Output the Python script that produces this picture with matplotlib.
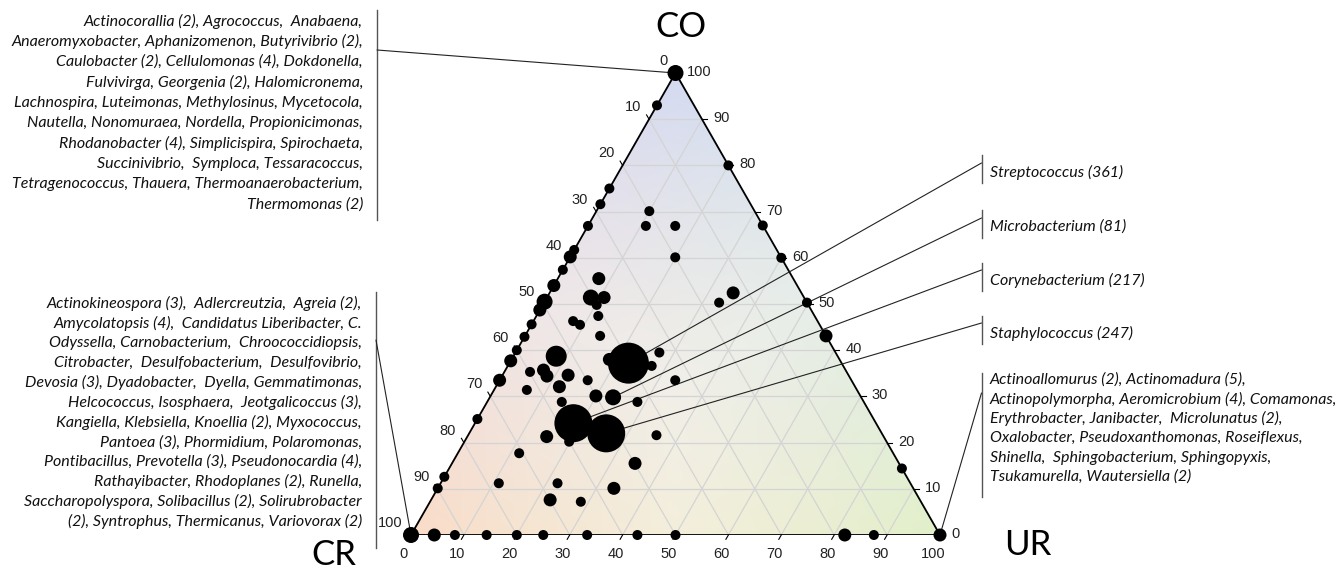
import numpy as np
import matplotlib.pyplot as plt
from matplotlib.patches import Polygon, ConnectionPatch

# ternary positions in percent (cr = 100 - ur - co)
ur = [0, 0, 100,
      0, 0, 0, 0, 0, 0, 0, 0, 0, 0, 0, 0, 0, 0, 0, 0, 0, 0,
      4.4, 8.3, 14.3, 20, 25, 33.3, 42.8, 50, 82, 87.5,
      20, 33, 40, 49.7, 56.9, 85.6,
      10.0, 10.95, 16.5, 19.9, 7.75, 8.3, 10.8, 10.2, 7.5, 9.2, 11.7, 14.2,
      8.1, 7.2, 8.5, 4.85, 12.4, 12.0, 6.2, 16.65, 14.1, 19.9, 23.3, 28.4,
      22.5, 18.5, 27.2, 27.2, 33.2, 18.6, 25.9, 19.8, 15.0, 35.6, 11.6,
      34.6, 11.0, 22.1, 33.3, 22.5, 28.5, 34.7, 33.1]
co = [100, 0, 0,
      93, 75, 71.6, 66.9, 61.7, 60.2, 57.4, 54, 50.5, 48.7, 45.6, 42.9, 40, 37.7, 33.5, 25.1, 12.6, 10.1,
      0, 0, 0, 0, 0, 0, 0, 0, 0, 0,
      80, 67, 60, 50.3, 43.1, 14.4,
      70.1, 66.9, 66.9, 60.1, 55.5, 51.4, 51.4, 49.8, 46.3, 45.5, 47.4, 43.1,
      38.7, 35.7, 34.4, 35.3, 34.6, 32.1, 31.4, 33.5, 28.8, 30.1, 29.8, 28.8,
      37.2, 38.0, 39.5, 36.6, 33.5, 24.2, 22.0, 20.2, 21.3, 21.6, 17.7,
      15.5, 11.2, 11.2, 10.1, 7.6, 7.2, 52.4, 50.3]
# marker size class (1 small ... 6 largest)
size_cls = [3, 3, 2,
            1, 1, 1, 1, 1, 2, 1, 2, 3, 2, 1, 1, 1, 2, 2, 1, 1, 1,
            2, 1, 1, 1, 1, 1, 1, 1, 2, 1,
            1, 1, 1, 1, 2, 1,
            1, 1, 1, 1, 2, 3, 2, 1, 1, 1, 1, 1,
            4, 2, 2, 1, 2, 2, 1, 1, 1, 2, 3, 1,
            6, 2, 1, 1, 1, 5, 5, 1, 2, 1, 1,
            2, 1, 1, 2, 2, 1, 2, 1]

genus = ['Streptococcus (361)', 'Microbacterium (81)',
         'Corynebacterium (217)', 'Staphylococcus (247)']
genus_ur = [22.5, 23.3, 18.6, 25.9]
genus_co = [37.2, 29.8, 24.2, 22.0]

top_left = ['Actinocorallia (2), Agrococcus,  Anabaena,',
            'Anaeromyxobacter, Aphanizomenon, Butyrivibrio (2),',
            'Caulobacter (2), Cellulomonas (4), Dokdonella,',
            'Fulvivirga, Georgenia (2), Halomicronema,',
            'Lachnospira, Luteimonas, Methylosinus, Mycetocola,',
            'Nautella, Nonomuraea, Nordella, Propionicimonas,',
            'Rhodanobacter (4), Simplicispira, Spirochaeta,',
            'Succinivibrio,  Symploca, Tessaracoccus,',
            'Tetragenococcus, Thauera, Thermoanaerobacterium,',
            'Thermomonas (2)']
bottom_left = ['Actinokineospora (3),  Adlercreutzia,  Agreia (2),',
               'Amycolatopsis (4),  Candidatus Liberibacter, C.',
               'Odyssella, Carnobacterium,  Chroococcidiopsis,',
               'Citrobacter,  Desulfobacterium,  Desulfovibrio,',
               'Devosia (3), Dyadobacter,  Dyella, Gemmatimonas,',
               'Helcococcus, Isosphaera,  Jeotgalicoccus (3),',
               'Kangiella, Klebsiella, Knoellia (2), Myxococcus,',
               'Pantoea (3), Phormidium, Polaromonas,',
               'Pontibacillus, Prevotella (3), Pseudonocardia (4),',
               'Rathayibacter, Rhodoplanes (2), Runella,',
               'Saccharopolyspora, Solibacillus (2), Solirubrobacter',
               '(2), Syntrophus, Thermicanus, Variovorax (2)']
bottom_right = ['Actinoallomurus (2), Actinomadura (5),',
                'Actinopolymorpha, Aeromicrobium (4), Comamonas,',
                'Erythrobacter, Janibacter,  Microlunatus (2),',
                'Oxalobacter, Pseudoxanthomonas, Roseiflexus,',
                'Shinella,  Sphingobacterium, Sphingopyxis,',
                'Tsukamurella, Wautersiella (2)']

ticks = list(range(0, 101, 10))

diam = {1: 10, 2: 13, 3: 16, 4: 21, 5: 38, 6: 41}  # px


def tern(u, c):
    u = np.asarray(u, float)
    c = np.asarray(c, float)
    return u + c / 2, c


fig = plt.figure(figsize=(13.4, 5.7), dpi=100)
lay = fig.add_axes([0, 0, 1, 1])
lay.set_xlim(0, 1340)
lay.set_ylim(570, 0)
lay.axis('off')

ax = fig.add_axes([411 / 1340, 35 / 570, 529 / 1340, 462 / 570], zorder=2)
ax.patch.set_visible(False)

# background colour wash
n = 500
gx, gy = np.meshgrid(np.linspace(0, 100, n), np.linspace(0, 100, n))
wco = gy / 100
wur = (gx - gy / 2) / 100
wcr = 1 - wur - wco
W = np.stack([wcr, wur, wco], -1)
inside = (W >= -0.003).all(-1)
Wc = np.clip(W, 0, 1)
corner = np.array([[250, 220, 200], [226, 240, 202], [212, 218, 242]]) / 255
rgb = Wc @ corner
f = (Wc.max(-1) - 1 / 3) / (2 / 3)
rgb = rgb + (1 - f)[..., None] * 0.45 * (1 - rgb)
img = np.dstack([np.clip(rgb, 0, 1), inside.astype(float)])
ax.imshow(img, extent=(0, 100, 0, 100), origin='lower', aspect='auto',
          interpolation='bilinear', zorder=0)

# grid
gcol = '#d4d4d4'
for v in ticks[1:-1]:
    ax.plot([v / 2, 100 - v / 2], [v, v], color=gcol, lw=0.9, zorder=1)
    ax.plot([v, v + (100 - v) / 2], [0, 100 - v], color=gcol, lw=0.9, zorder=1)
    ax.plot([100 - v, (100 - v) / 2], [0, 100 - v], color=gcol, lw=0.9, zorder=1)

ax.add_patch(Polygon([[0, 0], [100, 0], [50, 100]], closed=True, fill=False,
                     ec='black', lw=1.3, zorder=3))

# ticks and tick labels
pxx, pxy = 100 / 529, 100 / 462
tfont = dict(family='Liberation Sans', fontsize=10.5, color='#222222')
for v in ticks:
    # bottom: UR
    ax.plot([v, v - 2.5 * pxx], [0, -4.3 * pxy], color='black', lw=0.8, clip_on=False)
    ax.text(v - 7 * pxx, -19 * pxy, str(v), ha='center', va='center', **tfont)
    # right: CO
    x, y = 100 - v / 2, v
    ax.plot([x, x + 5 * pxx], [y, y], color='black', lw=0.8, clip_on=False)
    ax.text(x + 11 * pxx, y + 1 * pxy, str(v), ha='left', va='center', **tfont)
    # left: CR
    x, y = (100 - v) / 2, 100 - v
    ax.plot([x, x - 2.5 * pxx], [y, y + 4.3 * pxy], color='black', lw=0.8, clip_on=False)
    ax.text(x - 8 * pxx, y + 12 * pxy, str(v), ha='right', va='center', **tfont)

# leader lines
lcol = '#222222'


def leader(u, c, px, py):
    xa, ya = tern(u, c)
    cp = ConnectionPatch(xyA=(float(xa), float(ya)), coordsA=ax.transData,
                         xyB=(px, py), coordsB=lay.transData,
                         color=lcol, lw=0.8, zorder=4)
    ax.add_artist(cp)
    cp.set_clip_on(False)


leader(0, 100, 377, 50)
leader(0, 0, 376, 340)
leader(100, 0, 981.5, 393)
for u, c, py in zip(genus_ur, genus_co, [163, 218, 270, 323]):
    leader(u, c, 981.5, py)

# points
xs, ys = tern(ur, co)
s = [(diam[k] * 0.72) ** 2 for k in size_cls]
ax.scatter(xs, ys, s=s, c='black', edgecolors='none', zorder=5, clip_on=False)

ax.set_xlim(0, 100)
ax.set_ylim(0, 100)
ax.axis('off')

# vertex names
cfont = dict(family='Lato', fontsize=25, color='black', ha='center', va='center')
lay.text(681, 27, 'CO', **cfont)
lay.text(334, 555, 'CR', **cfont)
lay.text(1028, 545, 'UR', **cfont)

# species lists
bcol = '#555555'
sfont = dict(family='Lato', style='italic', fontsize=11.5, color='#111111', va='center')
for i, t in enumerate(top_left):
    lay.text(363, 21 + i * 20.4, t, ha='right', **sfont)
lay.plot([377, 377], [10, 220], color=bcol, lw=1)
for i, t in enumerate(bottom_left):
    lay.text(362, 303.5 + i * 19.8, t, ha='right', **sfont)
lay.plot([376, 376], [292, 548], color=bcol, lw=1)
for i, t in enumerate(bottom_right):
    lay.text(990, 380 + i * 19.4, t, ha='left', **sfont)
lay.plot([981.5, 981.5], [373, 497], color=bcol, lw=1)
for t, ty in zip(genus, [172, 227, 280, 333]):
    lay.text(990, ty, t, ha='left', **sfont)
    lay.plot([981.5, 981.5], [ty - 17, ty + 11], color=bcol, lw=1)

fig.savefig('out.png', dpi=100)
